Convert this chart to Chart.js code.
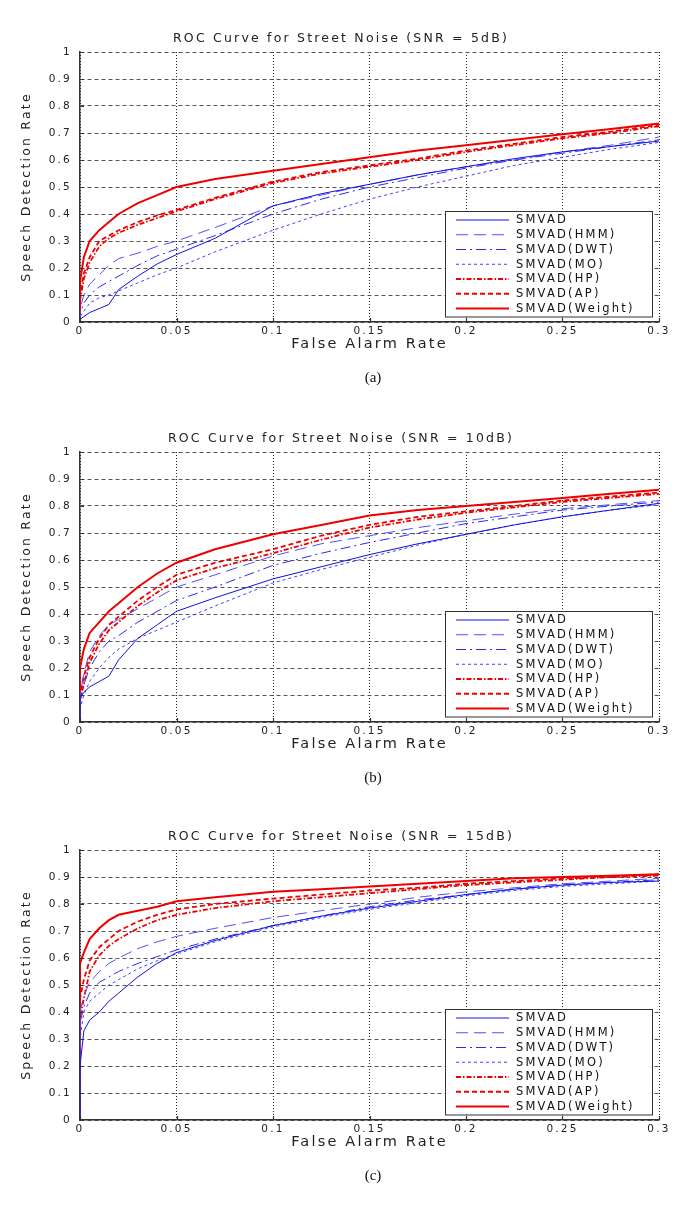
<!DOCTYPE html>
<html><head><meta charset="utf-8">
<script src="https://cdn.jsdelivr.net/npm/chart.js@4.4.1/dist/chart.umd.min.js"></script>
<style>
html,body{margin:0;padding:0;background:#fff;}
#wrap{position:relative;width:685px;height:1226px;overflow:hidden;background:#fff;}
canvas{position:absolute;left:0;}
.cap{position:absolute;left:0;width:746px;text-align:center;font-family:"Liberation Serif","Times New Roman",serif;font-size:15px;color:#111;line-height:18px;}
</style></head><body>
<div id="wrap">
<canvas id="ca" width="685" height="399" style="top:0px"></canvas>
<div class="cap" style="top:368px">(a)</div>
<canvas id="cb" width="685" height="399" style="top:400px"></canvas>
<div class="cap" style="top:768px">(b)</div>
<canvas id="cc" width="685" height="399" style="top:798px"></canvas>
<div class="cap" style="top:1166px">(c)</div>
</div>
<script>
// ---------- data ----------
const fpr = [0, 0, 0.002, 0.005, 0.01, 0.015, 0.02, 0.03, 0.04, 0.05, 0.07, 0.1, 0.125, 0.15, 0.175, 0.2, 0.225, 0.25, 0.275, 0.3];
const seriesNames = ['SMVAD', 'SMVAD(HMM)', 'SMVAD(DWT)', 'SMVAD(MO)', 'SMVAD(HP)', 'SMVAD(AP)', 'SMVAD(Weight)'];
const panelTitles = ['ROC Curve for Street Noise (SNR = 5dB)', 'ROC Curve for Street Noise (SNR = 10dB)', 'ROC Curve for Street Noise (SNR = 15dB)'];
const xTickLabels = ['0', '0.05', '0.1', '0.15', '0.2', '0.25', '0.3'];
const yTickLabels = ['0', '0.1', '0.2', '0.3', '0.4', '0.5', '0.6', '0.7', '0.8', '0.9', '1'];

// panel (a) SNR = 5dB
const a_smvad  = [0, 0.01, 0.02, 0.035, 0.05, 0.065, 0.12, 0.17, 0.215, 0.25, 0.31, 0.43, 0.475, 0.51, 0.545, 0.575, 0.605, 0.63, 0.65, 0.67];
const a_hmm    = [0, 0.05, 0.10, 0.14, 0.175, 0.21, 0.235, 0.255, 0.28, 0.30, 0.35, 0.43, 0.47, 0.51, 0.545, 0.575, 0.60, 0.63, 0.655, 0.685];
const a_dwt    = [0, 0.03, 0.07, 0.10, 0.13, 0.15, 0.17, 0.21, 0.245, 0.27, 0.32, 0.40, 0.455, 0.50, 0.535, 0.57, 0.60, 0.625, 0.65, 0.675];
const a_mo     = [0, 0.02, 0.04, 0.07, 0.09, 0.10, 0.115, 0.145, 0.175, 0.20, 0.26, 0.34, 0.40, 0.455, 0.50, 0.54, 0.58, 0.61, 0.64, 0.665];
const a_hp     = [0, 0.08, 0.16, 0.22, 0.28, 0.31, 0.33, 0.36, 0.385, 0.41, 0.455, 0.515, 0.55, 0.575, 0.60, 0.63, 0.655, 0.68, 0.70, 0.725];
const a_ap     = [0, 0.10, 0.18, 0.24, 0.30, 0.32, 0.34, 0.37, 0.395, 0.415, 0.46, 0.52, 0.555, 0.58, 0.605, 0.635, 0.66, 0.685, 0.705, 0.73];
const a_weight = [0, 0.15, 0.24, 0.30, 0.34, 0.37, 0.40, 0.44, 0.47, 0.50, 0.53, 0.56, 0.585, 0.61, 0.635, 0.655, 0.675, 0.695, 0.715, 0.735];

// panel (b) SNR = 10dB
const b_smvad  = [0, 0.09, 0.11, 0.13, 0.15, 0.17, 0.23, 0.31, 0.36, 0.41, 0.46, 0.53, 0.575, 0.62, 0.66, 0.695, 0.73, 0.76, 0.785, 0.81];
const b_hmm    = [0, 0.10, 0.18, 0.26, 0.32, 0.36, 0.38, 0.42, 0.46, 0.50, 0.545, 0.615, 0.66, 0.69, 0.72, 0.745, 0.77, 0.79, 0.805, 0.82];
const b_dwt    = [0, 0.08, 0.14, 0.20, 0.26, 0.30, 0.32, 0.37, 0.41, 0.45, 0.50, 0.58, 0.625, 0.665, 0.70, 0.735, 0.76, 0.785, 0.80, 0.815];
const b_mo     = [0, 0.05, 0.10, 0.15, 0.20, 0.24, 0.27, 0.31, 0.34, 0.37, 0.43, 0.515, 0.565, 0.61, 0.655, 0.695, 0.73, 0.76, 0.785, 0.805];
const b_hp     = [0, 0.08, 0.14, 0.22, 0.29, 0.34, 0.37, 0.43, 0.48, 0.525, 0.57, 0.625, 0.675, 0.72, 0.75, 0.775, 0.795, 0.815, 0.83, 0.845];
const b_ap     = [0, 0.10, 0.17, 0.24, 0.31, 0.36, 0.39, 0.45, 0.50, 0.545, 0.59, 0.64, 0.69, 0.73, 0.76, 0.78, 0.80, 0.82, 0.835, 0.85];
const b_weight = [0, 0.20, 0.27, 0.33, 0.37, 0.41, 0.44, 0.50, 0.55, 0.59, 0.64, 0.695, 0.73, 0.765, 0.785, 0.80, 0.815, 0.83, 0.845, 0.86];

// panel (c) SNR = 15dB
const c_smvad  = [0, 0.20, 0.33, 0.37, 0.40, 0.44, 0.47, 0.53, 0.58, 0.62, 0.665, 0.72, 0.755, 0.785, 0.81, 0.835, 0.855, 0.87, 0.88, 0.885];
const c_hmm    = [0, 0.40, 0.46, 0.51, 0.55, 0.58, 0.60, 0.635, 0.66, 0.68, 0.71, 0.75, 0.775, 0.80, 0.825, 0.845, 0.86, 0.875, 0.885, 0.895];
const c_dwt    = [0, 0.36, 0.42, 0.47, 0.51, 0.53, 0.55, 0.58, 0.605, 0.63, 0.67, 0.72, 0.755, 0.79, 0.815, 0.835, 0.855, 0.87, 0.88, 0.89];
const c_mo     = [0, 0.30, 0.40, 0.44, 0.47, 0.50, 0.52, 0.56, 0.59, 0.615, 0.66, 0.715, 0.75, 0.78, 0.805, 0.83, 0.85, 0.865, 0.875, 0.885];
const c_hp     = [0, 0.38, 0.45, 0.55, 0.61, 0.645, 0.67, 0.71, 0.74, 0.76, 0.785, 0.81, 0.825, 0.84, 0.855, 0.87, 0.88, 0.89, 0.90, 0.905];
const c_ap     = [0, 0.45, 0.52, 0.59, 0.64, 0.67, 0.70, 0.735, 0.76, 0.78, 0.80, 0.82, 0.835, 0.85, 0.86, 0.875, 0.885, 0.895, 0.90, 0.91];
const c_weight = [0, 0.58, 0.62, 0.67, 0.71, 0.74, 0.76, 0.775, 0.79, 0.81, 0.825, 0.845, 0.855, 0.865, 0.875, 0.885, 0.895, 0.90, 0.905, 0.91];

// ---------- styles ----------
const FONT = '"DejaVu Sans", "Liberation Sans", sans-serif';
const styles = [
  {color: '#1010e0', dash: [], width: 1},
  {color: '#5050ff', dash: [12, 6], width: 1},
  {color: '#2a2af0', dash: [10, 4, 2, 4], width: 1},
  {color: '#4040ff', dash: [3, 3], width: 1},
  {color: '#ee0000', dash: [5, 2, 1.5, 2], width: 1.8},
  {color: '#ee0000', dash: [5, 3], width: 1.8},
  {color: '#ee0000', dash: [], width: 2}
];

function labelFor(list, v) {
  const f = list.find(l => Math.abs(parseFloat(l) - v) < 1e-6);
  return f === undefined ? '' : f;
}

const spacingPlugin = {
  id: 'spacing',
  beforeLayout(c) { c.ctx.letterSpacing = '2.2px'; },
  beforeDraw(c) { c.ctx.letterSpacing = '2.2px'; }
};

const innerTicks = {
  id: 'innerTicks',
  afterDatasetsDraw(chart) {
    const {ctx, chartArea: ca, scales} = chart;
    ctx.save();
    ctx.strokeStyle = '#333';
    ctx.lineWidth = 1.2;
    ctx.setLineDash([]);
    ctx.beginPath();
    scales.x.ticks.forEach(t => {
      const px = Math.round(scales.x.getPixelForValue(t.value)) + 0.5;
      ctx.moveTo(px, ca.bottom); ctx.lineTo(px, ca.bottom - 4);
    });
    scales.y.ticks.forEach(t => {
      const py = Math.round(scales.y.getPixelForValue(t.value)) + 0.5;
      ctx.moveTo(ca.left, py); ctx.lineTo(ca.left + 4, py);
    });
    ctx.stroke();
    ctx.restore();
  }
};

const legendBox = {
  id: 'legendBox',
  afterDatasetsDraw(chart) {
    const {ctx, chartArea: ca} = chart;
    const w = 207, rowH = 14.75, h = 105.5;
    const x0 = Math.round(ca.right - 7 - w), y0 = Math.round(ca.bottom - 6 - h);
    ctx.save();
    ctx.fillStyle = '#fff';
    ctx.fillRect(x0, y0, w, h);
    ctx.strokeStyle = '#333';
    ctx.lineWidth = 1;
    ctx.setLineDash([]);
    ctx.strokeRect(x0 + 0.5, y0 + 0.5, w, h);
    chart.data.datasets.forEach((ds, i) => {
      const y = y0 + 9 + i * rowH;
      ctx.beginPath();
      ctx.setLineDash(ds.borderDash || []);
      ctx.strokeStyle = ds.borderColor;
      ctx.lineWidth = ds.borderWidth;
      ctx.moveTo(x0 + 11, y);
      ctx.lineTo(x0 + 64, y);
      ctx.stroke();
      ctx.setLineDash([]);
      ctx.fillStyle = '#111';
      ctx.font = '11.5px ' + FONT;
      ctx.textBaseline = 'middle';
      ctx.textAlign = 'left';
      ctx.fillText(ds.label, x0 + 71, y + 0.5);
    });
    ctx.restore();
  }
};

function makeChart(id, title, seriesList) {
  const datasets = seriesList.map((vals, i) => ({
    label: seriesNames[i],
    data: fpr.map((x, k) => ({x: x, y: vals[k]})),
    borderColor: styles[i].color,
    borderDash: styles[i].dash,
    borderWidth: styles[i].width,
    pointRadius: 0,
    tension: 0,
    fill: false
  }));
  return new Chart(document.getElementById(id), {
    type: 'line',
    data: {datasets},
    options: {
      responsive: false,
      animation: false,
      events: [],
      layout: {padding: {left: 23, right: 26, top: 0, bottom: 0}},
      plugins: {
        legend: {display: false},
        tooltip: {enabled: false},
        title: {
          display: true, text: title, color: '#222',
          font: {family: FONT, size: 12.5, weight: 'normal'},
          padding: {top: 31, bottom: 6}
        }
      },
      scales: {
        x: {
          type: 'linear', min: 0, max: 0.3,
          grid: {color: '#222', lineWidth: 1, drawTicks: false},
          border: {display: true, color: '#333', width: 1.5, dash: [1, 2]},
          ticks: {stepSize: 0.05, padding: 3, color: '#222', maxRotation: 0, autoSkip: false,
                  font: {family: FONT, size: 10.5},
                  callback: v => labelFor(xTickLabels, v)},
          title: {display: true, text: 'False Alarm Rate', color: '#222',
                  font: {family: FONT, size: 14.5}, padding: {top: 0, bottom: 46}},
          afterFit(s) { s.height = 77; }
        },
        y: {
          type: 'linear', min: 0, max: 1,
          grid: {color: '#555', lineWidth: 1, drawTicks: false},
          border: {display: true, color: '#333', width: 1.5, dash: [4, 3]},
          ticks: {stepSize: 0.1, padding: 8, color: '#222', autoSkip: false,
                  font: {family: FONT, size: 10.5},
                  callback: v => labelFor(yTickLabels, v)},
          title: {display: true, text: 'Speech Detection Rate', color: '#222',
                  font: {family: FONT, size: 12.5, lineHeight: 0.6}, padding: 0},
          afterFit(s) { s.width = 57; }
        }
      }
    },
    plugins: [spacingPlugin, innerTicks, legendBox]
  });
}

makeChart('ca', panelTitles[0], [a_smvad, a_hmm, a_dwt, a_mo, a_hp, a_ap, a_weight]);
makeChart('cb', panelTitles[1], [b_smvad, b_hmm, b_dwt, b_mo, b_hp, b_ap, b_weight]);
makeChart('cc', panelTitles[2], [c_smvad, c_hmm, c_dwt, c_mo, c_hp, c_ap, c_weight]);
</script>
</body></html>
